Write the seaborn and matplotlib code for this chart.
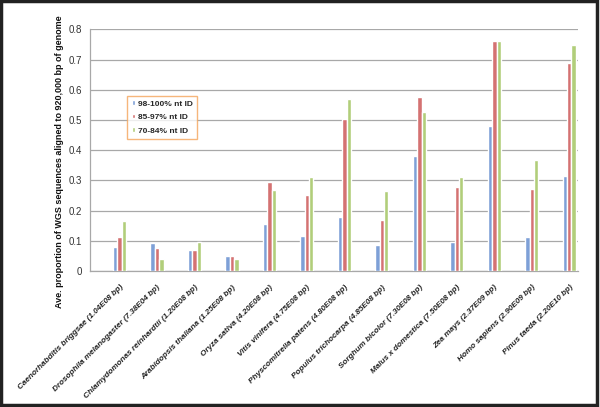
import pandas as pd
import matplotlib.pyplot as plt
import seaborn as sns

species = [
    "Caenorhabditis briggsae (1.04E08 bp)",
    "Drosophila melanogaster (7.38E04 bp)",
    "Chlamydomonas reinhardtii (1.20E08 bp)",
    "Arabidopsis thaliana (1.25E08 bp)",
    "Oryza sativa (4.20E08 bp)",
    "Vitis vinifera (4.75E08 bp)",
    "Physcomitrella patens (4.80E08 bp)",
    "Populus trichocarpa (4.85E08 bp)",
    "Sorghum bicolor (7.30E08 bp)",
    "Malus x domestica (7.50E08 bp)",
    "Zea mays (2.37E09 bp)",
    "Homo sapiens (2.90E09 bp)",
    "Pinus taeda (2.20E10 bp)",
]
id_98_100 = [0.079, 0.093, 0.071, 0.051, 0.156, 0.115, 0.178, 0.086, 0.381, 0.095, 0.480, 0.113, 0.315]
id_85_97 = [0.113, 0.077, 0.071, 0.049, 0.296, 0.252, 0.503, 0.168, 0.575, 0.277, 0.760, 0.270, 0.690]
id_70_84 = [0.166, 0.040, 0.095, 0.040, 0.268, 0.311, 0.569, 0.266, 0.525, 0.311, 0.760, 0.368, 0.749]
series = ["98-100% nt ID", "85-97% nt ID", "70-84% nt ID"]
colors = ["#6f9ce6", "#e46262", "#b5dc6c"]

df = pd.DataFrame({
    "species": species * 3,
    "value": id_98_100 + id_85_97 + id_70_84,
    "series": [s for s in series for _ in species],
})

sns.set_style("white")
plt.rcParams["font.family"] = ["Liberation Sans", "DejaVu Sans"]

fig = plt.figure(figsize=(6.0, 4.07), dpi=100)
ax = fig.add_axes([0.15, 0.334, 0.813, 0.594])

sns.barplot(data=df, x="species", y="value", hue="series", palette=colors,
            width=0.35, gap=0, errorbar=None, ax=ax, zorder=3)

ax.set_ylim(0, 0.8)
ax.set_yticks([0, 0.1, 0.2, 0.3, 0.4, 0.5, 0.6, 0.7, 0.8])
ax.set_yticklabels(["0", "0.1", "0.2", "0.3", "0.4", "0.5", "0.6", "0.7", "0.8"],
                   fontsize=7, color="#333333")
ax.yaxis.grid(True, color="#a8a8a8", linewidth=0.9, zorder=0)
ax.tick_params(axis="y", length=2.5, color="#a8a8a8", pad=3)
ax.tick_params(axis="x", length=0, pad=9)
# groups sit towards the right of each category slot, as in the original
ax.set_xlim(-0.787, len(species) - 1 + 0.227)
ax.set_xticks(range(len(species)))
ax.set_xticklabels(species, rotation=45, ha="right", va="top", rotation_mode="anchor",
                   fontsize=5.9, fontweight="bold", fontstyle="italic", color="#222222")
for side in ["top", "right"]:
    ax.spines[side].set_visible(False)
for side in ["left", "bottom"]:
    ax.spines[side].set_color("#a8a8a8")
    ax.spines[side].set_linewidth(0.9)

ax.set_xlabel("")
ax.set_ylabel("")
fig.text(60 / 600, 1 - 162 / 407,
         "Ave. proportion of WGS sequences aligned to 920,000 bp of genome",
         rotation=90, ha="center", va="center", fontsize=6.5, fontweight="bold",
         color="#111111")

leg = ax.legend(loc="upper left", bbox_to_anchor=(0.068, 0.74),
                prop={"weight": "bold", "size": 6.0}, handlelength=0.45, handleheight=0.45,
                handletextpad=0.3, labelspacing=0.75, borderpad=0.5, fancybox=False,
                frameon=True)
leg.get_frame().set_edgecolor("#f4a45a")
leg.get_frame().set_linewidth(1.0)

# dark frame round the whole picture
fig.patches.append(plt.Rectangle((0.002, 0.004), 0.993, 0.993, transform=fig.transFigure,
                                 fill=False, edgecolor="#222222", linewidth=2.5))

fig.savefig("out.png", dpi=100)
